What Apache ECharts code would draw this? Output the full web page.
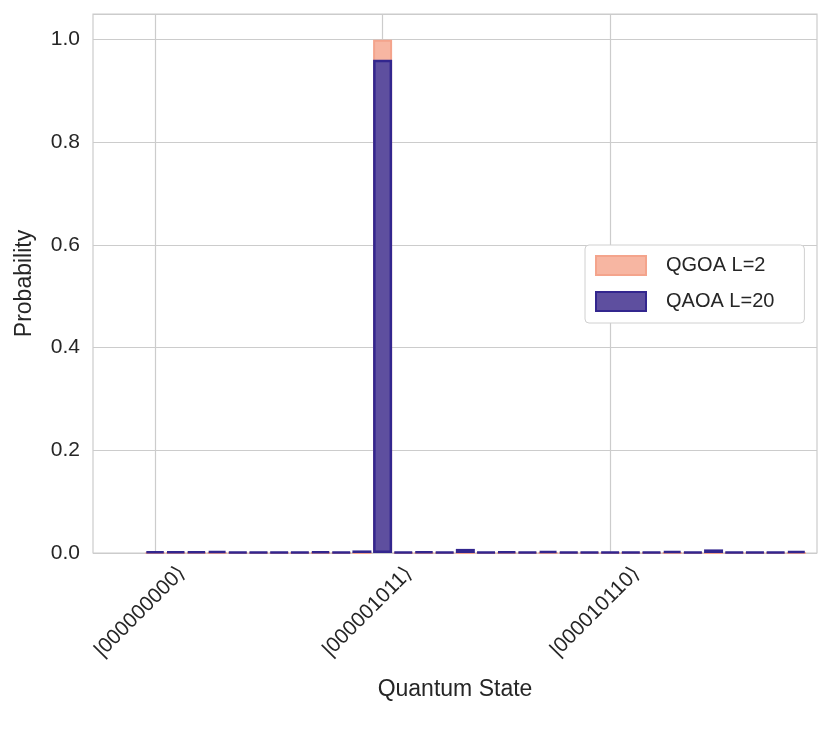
<!DOCTYPE html>
<html>
<head>
<meta charset="utf-8">
<script src="https://cdn.jsdelivr.net/npm/echarts@6/dist/echarts.min.js"></script>
<style>html,body{margin:0;padding:0;background:#fff;}#c{width:831px;height:743px;}</style>
</head>
<body>
<div id="c"></div>
<script>
// Quantum states (x categories)
const states = [
  '|000000000⟩','|000000001⟩','|000000010⟩','|000000011⟩','|000000100⟩','|000000101⟩','|000000110⟩','|000000111⟩',
  '|000001000⟩','|000001001⟩','|000001010⟩','|000001011⟩','|000001100⟩','|000001101⟩','|000001110⟩','|000001111⟩',
  '|000010000⟩','|000010001⟩','|000010010⟩','|000010011⟩','|000010100⟩','|000010101⟩','|000010110⟩','|000010111⟩',
  '|000011000⟩','|000011001⟩','|000011010⟩','|000011011⟩','|000011100⟩','|000011101⟩','|000011110⟩','|000011111⟩'
];
const tickStates = ['|000000000⟩','|000001011⟩','|000010110⟩'];
const yTicks = [0, 0.2, 0.4, 0.6, 0.8, 1.0];

const qgoa = [0,0,0,0,0,0,0,0,0,0,0,1.0,0,0,0,0,0,0,0,0,0,0,0,0,0,0,0,0,0,0,0,0];
const qaoa = [0.003,0.003,0.003,0.004,0.002,0.002,0.002,0.002,0.003,0.002,0.005,0.961,
              0.002,0.003,0.002,0.008,0.002,0.003,0.002,0.004,0.002,0.002,0.002,0.002,
              0.002,0.004,0.002,0.007,0.002,0.002,0.002,0.004];

const padLeft = ['pad-3','pad-2','pad-1'];
const padRight = ['pad+1'];
const categories = padLeft.concat(states, padRight);
const pad = (arr) => padLeft.map(() => null).concat(arr, padRight.map(() => null));

const FONT = '"Liberation Sans", Arial, "DejaVu Sans", sans-serif';
const showTick = (idx, val) => tickStates.indexOf(val) >= 0;

const chart = echarts.init(document.getElementById('c'), null, {renderer: 'canvas'});
chart.setOption({
  animation: false,
  backgroundColor: '#ffffff',
  grid: {left: 93, right: 14, top: 14, bottom: 190, show: true, borderColor: '#cccccc', borderWidth: 1.2,
         backgroundColor: 'transparent', containLabel: false, outerBoundsMode: 'none'},
  xAxis: {
    type: 'category',
    data: categories,
    boundaryGap: false,
    name: 'Quantum State',
    nameLocation: 'middle',
    nameGap: 125,
    nameTextStyle: {fontFamily: FONT, fontSize: 23, color: '#262626'},
    axisLine: {show: false},
    axisTick: {show: false},
    axisLabel: {
      interval: showTick, rotate: 45, align: 'center', verticalAlign: 'middle',
      fontFamily: FONT, fontSize: 21, color: '#262626', margin: 44,
      formatter: (v) => '{t|' + v + '}{s|}',
      rich: {t: {fontFamily: FONT, fontSize: 21, color: '#262626'}, s: {width: 42}}
    },
    splitLine: {show: true, interval: showTick, lineStyle: {color: '#cccccc', width: 1.2}}
  },
  yAxis: {
    type: 'value',
    min: 0,
    max: 1.05,
    interval: 0.2,
    name: 'Probability',
    nameLocation: 'middle',
    nameGap: 57,
    nameTextStyle: {fontFamily: FONT, fontSize: 23, color: '#262626'},
    axisLine: {show: false},
    axisTick: {show: false},
    axisLabel: {
      fontFamily: FONT, fontSize: 21, color: '#262626', margin: 13,
      formatter: (v) => yTicks.some(t => Math.abs(t - v) < 1e-6) ? v.toFixed(1) : ''
    },
    splitLine: {show: true, lineStyle: {color: '#cccccc', width: 1.2}}
  },
  legend: {
    left: 585, top: 245,
    orient: 'vertical',
    itemWidth: 50, itemHeight: 19, itemGap: 15,
    padding: [10, 30, 11, 10],
    borderColor: '#d0d0d0', borderWidth: 1, borderRadius: 4,
    backgroundColor: '#ffffff',
    icon: 'rect',
    textStyle: {fontFamily: FONT, fontSize: 20, color: '#262626', padding: [0, 0, 0, 15]},
    data: ['QGOA L=2', 'QAOA L=20']
  },
  series: [
    {
      name: 'QGOA L=2', type: 'bar', data: pad(qgoa), barWidth: 19, barGap: '-100%',
      itemStyle: {color: '#f7b6a2', borderColor: '#f4a48c', borderWidth: 2}
    },
    {
      name: 'QAOA L=20', type: 'bar', data: pad(qaoa), barWidth: 19, barGap: '-100%',
      itemStyle: {color: '#5e4f9f', borderColor: '#33268e', borderWidth: 2.5}
    }
  ]
});
</script>
</body>
</html>
